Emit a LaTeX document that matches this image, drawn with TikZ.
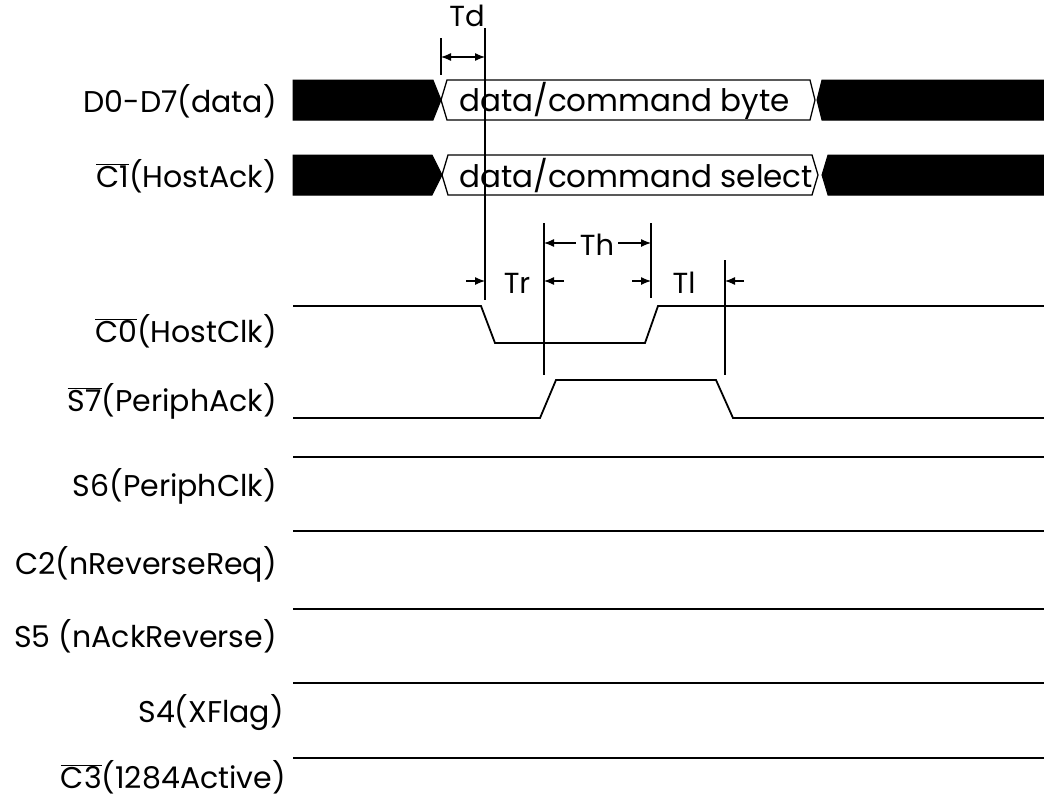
\documentclass[tikz,border=0pt]{standalone}
\usepackage{fontspec}
\setmainfont{Poppins}
\usetikzlibrary{arrows.meta}
\newcommand\ovl[1]{\ensuremath{\overline{\hbox{#1}}}}
\begin{document}
\begin{tikzpicture}[x=1pt,y=-1pt,
  lbl/.style={anchor=east,inner sep=0pt,font=\fontsize{30}{34}\selectfont},
  bustxt/.style={anchor=west,inner sep=0pt,font=\fontsize{31}{34}\selectfont},
  dimtxt/.style={inner sep=0pt,font=\fontsize{29}{32}\selectfont},
  sig/.style={line width=1.8pt,line join=miter},
  bus/.style={line width=1.3pt},
  blk/.style={fill=black,draw=black,line width=1pt},
  ref/.style={line width=1.2pt},
  dim/.style={line width=1.2pt,-{Latex[length=10pt,width=8pt]}},
  dimboth/.style={line width=1.2pt,{Latex[length=10pt,width=8pt]}-{Latex[length=10pt,width=8pt]}}]
\useasboundingbox (0,0) rectangle (1044,798);
% labels
\node[lbl] (l1) at (277,101) {D0-D7(data)};
\node[lbl] (l2) at (277,176) {\ovl{C1}(HostAck)};
\node[lbl] (l3) at (277,331) {\ovl{C0}(HostClk)};
\node[lbl] (l4) at (277,401) {\ovl{S7}(PeriphAck)};
\node[lbl] (l5) at (277,486) {S6(PeriphClk)};
\node[lbl] (l6) at (277,564) {C2(nReverseReq)};
\node[lbl] (l7) at (277,636) {S5 (nAckReverse)};
\node[lbl] (l8) at (284,713) {S4(XFlag)};
\node[lbl] (l9) at (286,777) {\ovl{C3}(1284Active)};
% data bus row
\fill[blk] (293,80) -- (433,80) -- (441,100) -- (433,120) -- (293,120) -- cycle;
\draw[bus] (447,80) -- (810,80) -- (815,100) -- (810,120) -- (447,120) -- (441,100) -- cycle;
\fill[blk] (822,80) -- (1044,80) -- (1044,120) -- (822,120) -- (817,100) -- cycle;
\node[bustxt] (b1) at (459,101) {data/command byte};
% select row
\fill[blk] (293,155) -- (432,155) -- (442,175) -- (432,195) -- (293,195) -- cycle;
\draw[bus] (448,155) -- (812,155) -- (818,175) -- (812,195) -- (448,195) -- (442,175) -- cycle;
\fill[blk] (828,155) -- (1044,155) -- (1044,195) -- (828,195) -- (822,175) -- cycle;
\node[bustxt] (b2) at (459,176) {data/command select};
% HostClk
\draw[sig] (293,306) -- (481,306) -- (495,343) -- (645,343) -- (658,306) -- (1044,306);
% PeriphAck
\draw[sig] (293,418) -- (540,418) -- (556,380) -- (716,380) -- (733,418) -- (1044,418);
% static lines
\foreach \yy in {457,531,609,683,758} \draw[sig] (293,\yy) -- (1044,\yy);
% reference lines
\coordinate (tdL) at (441,38);
\coordinate (tdR) at (485,28);
\draw[ref] (tdL) -- (441,75);
\draw[ref] (tdR) -- (485,300);
\draw[ref] (544,223) -- (544,375);
\draw[ref] (651,223) -- (651,298);
\draw[ref] (725,260) -- (725,375);
% Td
\draw[dimboth] (441,57) -- (485,57);
\node[dimtxt] (td) at (467,16) {Td};
% Th
\node[dimtxt] (th) at (597,245) {Th};
\draw[dim] (th.west) ++(-4,-2) -- (544,243);
\draw[dim] (th.east) ++(4,-2) -- (651,243);
% Tr
\node[dimtxt] (tr) at (517,283) {Tr};
\draw[dim] (466,281) -- (485,281);
\draw[dim] (564,281) -- (544,281);
% Tl
\node[dimtxt] (tl) at (684,283) {Tl};
\draw[dim] (632,281) -- (651,281);
\draw[dim] (744,281) -- (725,281);
\end{tikzpicture}
\end{document}
